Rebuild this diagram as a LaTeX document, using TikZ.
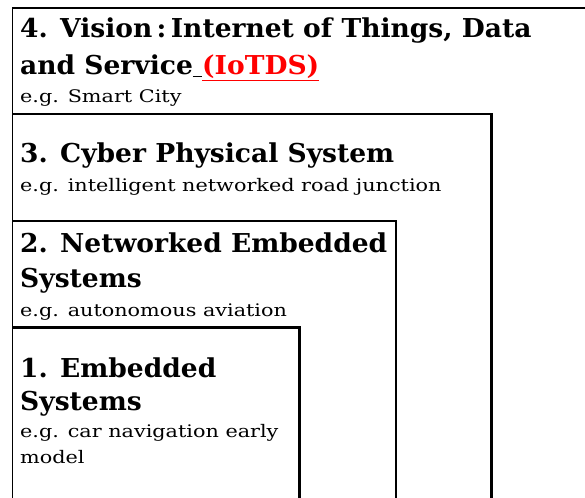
\documentclass[tikz,border=0pt]{standalone}
\usepackage{fontspec}
\setmainfont{DejaVu Serif}
\newfontfamily\headfont[FakeStretch=1.02]{DejaVu Serif}
\newfontfamily\egfont[FakeStretch=1.2]{DejaVu Serif}
\tikzset{
    headtext/.style={
        anchor=base west,
        inner sep=0,
        font=\headfont\bfseries\fontsize{26}{30}\selectfont,
    },
    egtext/.style={
        anchor=base west,
        inner sep=0,
        font=\egfont\fontsize{17.3}{20}\selectfont,
    },
    layerbox/.style={
        draw,
        line width=2.6pt,
    },
}

\begin{document}
\begin{tikzpicture}[x=1pt,y=-1pt]
            \useasboundingbox (0,0) rectangle (585,497);
            \clip (0,0) rectangle (585,497);

            % nested layers
            \draw[line width=1.3pt] (12.5,520) -- (12.5,8) -- (600,8);
            \draw[layerbox] (12.5,114) -- (491.5,114) -- (491.5,520);
            \draw[layerbox] (12.5,221) -- (396,221) -- (396,520);
            \draw[layerbox] (12.5,327.5) -- (299.5,327.5) -- (299.5,520);

            \node[headtext] at (20, 38)  (visiontop)  {4. Vision\,:\,Internet of Things, Data};
            \node[headtext] at (20, 75)  (visionbot)  {and Service\underline{\ }\textcolor{red}{\underline{(IoTDS)}}};
            \node[egtext]   at (20, 103) (visioneg)   {e.g. Smart City};

            \node[headtext] at (20, 162) (cps)        {3. Cyber Physical System};
            \node[egtext]   at (20, 191) (cpseg)      {e.g. intelligent networked road junction};

            \node[headtext] at (20, 252) (netemtop)   {2. Networked Embedded};
            \node[headtext] at (20, 287) (netembot)   {Systems};
            \node[egtext]   at (20, 316) (netemeg)    {e.g. autonomous aviation};

            \node[headtext] at (20, 377) (embtop)     {1. Embedded};
            \node[headtext] at (20, 410) (embbot)     {Systems};
            \node[egtext]   at (20, 437) (embegtop)   {e.g. car navigation early};
            \node[egtext]   at (20, 463) (embegbot)   {model};
\end{tikzpicture}
\end{document}
